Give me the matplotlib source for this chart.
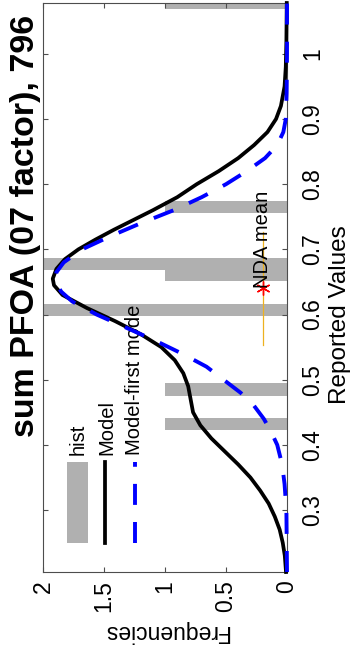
import matplotlib.pyplot as plt
from matplotlib.patches import Rectangle

plt.rcParams['font.family'] = ['Liberation Sans', 'DejaVu Sans']

# ----------------------------------------------------------------------
# Data read off the (rotated) MATLAB figure.
# Reported value runs up the page, frequency runs right-to-left.
# ----------------------------------------------------------------------
hist_values = [0.4325, 0.485, 0.6075, 0.6605, 0.678, 0.7655, 1.078]
hist_counts = [1, 1, 2, 1, 2, 1, 1]
BIN_W = 0.0185

model_values = [0.205, 0.23, 0.25, 0.27, 0.29, 0.31, 0.33, 0.35, 0.37, 0.39,
                0.41, 0.43, 0.45, 0.47, 0.49, 0.51, 0.53, 0.55, 0.57, 0.59,
                0.61, 0.63, 0.645, 0.655, 0.67, 0.685, 0.70, 0.715, 0.73, 0.745,
                0.76, 0.78, 0.80, 0.82, 0.84, 0.86, 0.88, 0.90, 0.92, 0.95,
                0.98, 1.02, 1.078]
model_freq = [0.008, 0.018, 0.035, 0.06, 0.10, 0.15, 0.22, 0.30, 0.40, 0.51,
              0.62, 0.71, 0.77, 0.79, 0.81, 0.85, 0.92, 1.03, 1.20, 1.41,
              1.64, 1.84, 1.91, 1.92, 1.89, 1.82, 1.71, 1.57, 1.42, 1.26,
              1.10, 0.90, 0.74, 0.56, 0.40, 0.27, 0.16, 0.09, 0.05, 0.02,
              0.01, 0.005, 0.002]

first_values = [0.205, 0.30, 0.34, 0.37, 0.40, 0.42, 0.44, 0.46, 0.48, 0.50,
                0.52, 0.54, 0.56, 0.58, 0.60, 0.62, 0.635, 0.65, 0.665, 0.68,
                0.70, 0.72, 0.74, 0.76, 0.78, 0.80, 0.82, 0.84, 0.86, 0.88,
                0.90, 0.94, 1.0, 1.078]
first_freq = [0.0, 0.005, 0.02, 0.04, 0.08, 0.13, 0.19, 0.27, 0.38, 0.52,
              0.66, 0.86, 1.08, 1.32, 1.56, 1.76, 1.85, 1.90, 1.89, 1.83,
              1.68, 1.45, 1.20, 0.93, 0.70, 0.50, 0.33, 0.18, 0.08, 0.03,
              0.01, 0.003, 0.0, 0.0]

nda_mean = 0.64
nda_lo, nda_hi = 0.554, 0.726
nda_freq = 0.2

value_ticks = [0.3, 0.4, 0.5, 0.6, 0.7, 0.8, 0.9, 1.0]
value_labels = ['0.3', '0.4', '0.5', '0.6', '0.7', '0.8', '0.9', '1']
freq_ticks = [0, 0.5, 1, 1.5, 2]
freq_labels = ['0', '0.5', '1', '1.5', '2']

GRAY = '#B0B0B0'
FRAME = '#4D4D4D'
DASH = (0, (5.4, 4.4))

W, H = 351, 647
fig = plt.figure(figsize=(W / 100, H / 100), dpi=100)
ax = fig.add_axes([43 / W, 1 - 572 / H, (287 - 43) / W, (572 - 3) / H])

ax.barh(hist_values, hist_counts, height=BIN_W, color=GRAY, linewidth=0, zorder=1)
ax.plot(model_freq, model_values, color='k', lw=2.7, zorder=3, clip_on=False)
ax.plot(first_freq, first_values, color='b', lw=2.8, ls=DASH, zorder=4, clip_on=False)

# NDA mean +- spread
ax.plot([nda_freq, nda_freq], [nda_lo, nda_hi], color='#EDB120', lw=0.9, zorder=5)
ax.plot([nda_freq], [nda_mean], marker=(6, 2, 0), color='red', ms=10, mew=1.0, zorder=6)
ax.text(nda_freq, nda_mean, 'NDA mean', rotation=90, ha='center', va='bottom',
        fontsize=14.5, zorder=7)

ax.set_xlim(2, 0)
ax.set_ylim(0.205, 1.078)
ax.set_xticks(freq_ticks)
ax.set_xticklabels(freq_labels, rotation=90, va='top', ha='center')
ax.yaxis.tick_right()
ax.set_yticks(value_ticks)
ax.set_yticklabels(value_labels, rotation=90, va='center', ha='left')
ax.tick_params(axis='both', direction='in', length=3.6, width=0.8, color=FRAME,
               top=True, bottom=True, left=True, right=True,
               labelleft=False, labelright=True, labelsize=16.5)
ax.tick_params(axis='x', pad=6)
ax.tick_params(axis='y', pad=10)
for s in ax.spines.values():
    s.set_color(FRAME)
    s.set_linewidth(0.8)

# legend, drawn by hand because its text is rotated
ax.add_patch(Rectangle((0.098, 0.051), 0.086, 0.142, transform=ax.transAxes,
                       color=GRAY, lw=0, clip_on=False))
ax.plot([0.256, 0.256], [0.051, 0.193], transform=ax.transAxes, color='k', lw=2.7)
ax.plot([0.375, 0.375], [0.051, 0.193], transform=ax.transAxes, color='b', lw=2.8,
        ls=DASH)
for fx, lab in [(0.143, 'hist'), (0.262, 'Model'), (0.377, 'Model-first mode')]:
    ax.text(fx, 0.206, lab, transform=ax.transAxes, rotation=90,
            ha='center', va='bottom', fontsize=14.5)

fig.text(26 / W, 1 - 226 / H, 'sum PFOA (07 factor), 796', rotation=90,
         fontweight='bold', fontsize=24.5, ha='center', va='center')
fig.text(340 / W, 1 - 315 / H, 'Reported Values', rotation=90,
         ha='center', va='center', fontsize=17.5)
fig.text(166 / W, 1 - 632 / H, 'Frequencies', rotation=180,
         ha='center', va='center', fontsize=16.5)

fig.savefig('out.png', dpi=100)
